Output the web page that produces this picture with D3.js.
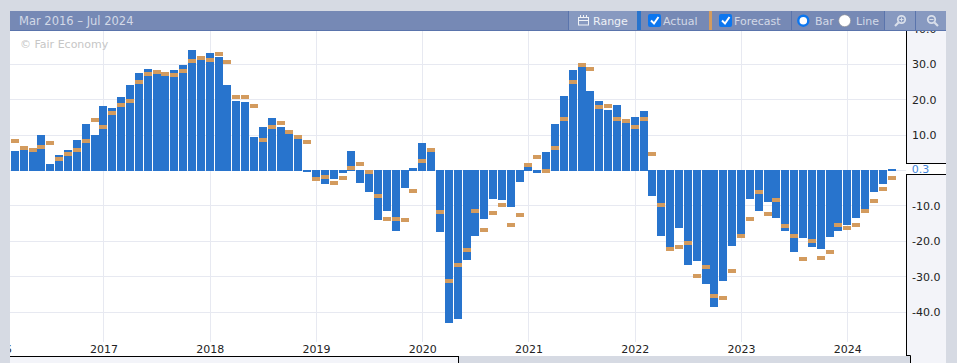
<!DOCTYPE html>
<html>
<head>
<meta charset="utf-8">
<script src="https://cdn.jsdelivr.net/npm/d3@7"></script>
<style>
  html, body { margin: 0; padding: 0; background: #d6dae3; overflow: hidden; }
  svg { display: block; font-family: "DejaVu Sans", sans-serif; font-size: 11px; }
  .head { fill: #d3d9e7; }
  .head.bright { fill: #eef1f6; }
</style>
</head>
<body>
<svg id="chart" width="957" height="363"></svg>
<script>
// one value per month, Mar 2016 to Jun 2024
var firstYear = 2016, firstMonth = 2;

var actual = [
  5.5, 5.8, 5.2, 10.1, 1.9, 4.4, 5.8, 8.6, 13.2, 10.1,
  18.3, 17.7, 20.8, 24.2, 27.6, 28.8, 27.4, 26.8, 28.5, 29.9, 34.1, 31.3,
  33.3, 32.1, 24.2, 19.7, 19.4, 9.5, 12.4, 14.9, 12.4, 10.4, 8.9, -0.4,
  -1.7, -3.9, -2.5, -0.6, 5.5, -3.6, -6.2, -14.1, -11.3, -17.0, -4.8, 0.7,
  7.8, 5.2, -17.5, -43.2, -42.1, -25.2, -18.4, -13.6, -8.1, -8.4, -10.2, -3.1,
  1.0, -0.6, 5.2, 13.2, 21.1, 28.5, 29.3, 22.5, 19.7, 17.1, 18.5, 13.5,
  15.2, 16.9, -7.3, -18.4, -21.7, -16.1, -26.6, -25.5, -32.2, -38.7, -31.1, -21.2,
  -17.8, -8.1, -11.3, -9.0, -13.3, -17.2, -22.9, -19.2, -21.7, -22.3, -18.9, -17.0,
  -15.5, -13.3, -10.8, -6.2, -3.9, 0.3
];

var forecast = [
  8.4, 6.4, 5.8, 6.6, 7.8, 3.3, 4.7, 5.8, 8.3, 14.3,
  12.4, 16.3, 18.5, 19.7, 25.1, 27.4, 27.9, 27.4, 27.1, 28.2, 31.0, 31.9,
  31.3, 33.0, 30.7, 20.8, 20.8, 18.3, 8.6, 12.4, 13.5, 11.0, 9.5, 8.1,
  -2.5, -1.7, -3.6, -2.2, 0.7, 1.8, -0.3, -7.3, -13.6, -13.6, -13.9, -5.9,
  2.8, 5.8, -11.6, -31.1, -26.6, -22.6, -11.3, -16.7, -11.9, -9.8, -15.5, -12.5,
  1.6, 3.8, -0.1, 6.4, 14.6, 25.1, 29.9, 28.8, 18.0, 18.3, 14.6, 14.1,
  12.4, 14.6, 4.7, -9.8, -22.3, -21.7, -20.6, -29.7, -27.4, -35.6, -35.9, -28.3,
  -18.6, -13.6, -6.2, -12.2, -8.4, -15.8, -18.6, -24.9, -20.0, -24.7, -22.9, -15.5,
  -16.1, -15.5, -11.3, -8.7, -5.3, -2.0
];

var yearTicks = [2016, 2017, 2018, 2019, 2020, 2021, 2022, 2023, 2024];
var valueTicks = [40, 30, 20, 10, -10, -20, -30, -40];
var gridValues = [30, 20, 10, 0, -10, -20, -30, -40];

var plot = { left: 10, right: 906, top: 31, bottom: 356 };

// months are evenly spaced on this chart, so x runs on a month count from Jan 2017
var monthIndex = (i) => (firstYear - 2017) * 12 + firstMonth + i;
var yearIndex = (yr) => (yr - 2017) * 12;

var x = d3.scaleLinear().domain([0, 84]).range([103.45, 847.27]);

var y = d3.scaleLinear().domain([-50, 40]).range([347.44, 29.02]);

var svg = d3.select("#chart");

// page + plot panels
svg.append("rect").attr("width", 957).attr("height", 363).attr("fill", "#d6dae3");
svg.append("rect")
  .attr("x", plot.left).attr("y", plot.top)
  .attr("width", plot.right - plot.left).attr("height", plot.bottom - plot.top)
  .attr("fill", "#ffffff");
svg.append("rect")
  .attr("x", plot.right).attr("y", plot.top)
  .attr("width", 40).attr("height", 363 - plot.top)
  .attr("fill", "#f3f4f9");
svg.append("rect")
  .attr("x", plot.left).attr("y", plot.bottom)
  .attr("width", 448).attr("height", 7)
  .attr("fill", "#f3f4f9");

svg.append("clipPath").attr("id", "plot-clip")
  .append("rect")
  .attr("x", plot.left).attr("y", plot.top)
  .attr("width", plot.right - plot.left).attr("height", plot.bottom - plot.top);

// grid
var grid = svg.append("g").attr("clip-path", "url(#plot-clip)");
grid.selectAll(".gx").data(yearTicks).enter().append("line")
  .attr("class", "gx")
  .attr("x1", (d) => Math.round(x(yearIndex(d))) + 0.5)
  .attr("x2", (d) => Math.round(x(yearIndex(d))) + 0.5)
  .attr("y1", plot.top).attr("y2", 342)
  .attr("stroke", "#e7e9f1");
grid.selectAll(".gy").data(gridValues).enter().append("line")
  .attr("class", "gy")
  .attr("x1", plot.left).attr("x2", plot.right)
  .attr("y1", (d) => Math.floor(y(d)) + 0.5)
  .attr("y2", (d) => Math.floor(y(d)) + 0.5)
  .attr("stroke", "#e7e9f1");

// bars, positive ones end one pixel below the negative ones' start
var zeroY = Math.ceil(y(0));
var marks = svg.append("g").attr("clip-path", "url(#plot-clip)");

marks.selectAll(".bar").data(actual).enter().append("rect")
  .attr("class", "bar")
  .attr("x", (d, i) => Math.round(x(monthIndex(i)) - 4))
  .attr("width", 8)
  .attr("y", (d) => (d >= 0 ? Math.round(y(d)) : zeroY - 1))
  .attr("height", (d) => (d >= 0 ? zeroY - Math.round(y(d)) : Math.round(y(d)) - zeroY + 1))
  .attr("fill", "#2874cd");

marks.selectAll(".fc").data(forecast).enter().append("rect")
  .attr("class", "fc")
  .attr("x", (d, i) => Math.round(x(monthIndex(i)) - 4))
  .attr("width", 8)
  .attr("y", (d) => Math.round(y(d)) - 2)
  .attr("height", 4)
  .attr("fill", "#d39b5e");

// x axis, 2016 label is cut by the panel edge
var xAxis = svg.append("g")
  .attr("clip-path", "url(#plot-clip)")
  .append("g")
  .attr("transform", "translate(0,342)")
  .call(
    d3.axisBottom(x)
      .tickValues(yearTicks.map(yearIndex))
      .tickFormat((d) => String(2017 + d / 12))
      .tickSize(0)
      .tickPadding(3)
  );
xAxis.select(".domain").remove();
xAxis.selectAll("text")
  .attr("fill", "#222")
  .style("font", "11px 'DejaVu Sans', sans-serif");

// y axis
var yAxis = svg.append("g")
  .attr("transform", "translate(" + plot.right + ",0)")
  .call(d3.axisRight(y).tickValues(valueTicks).tickFormat((d) => d.toFixed(1)).tickSize(0).tickPadding(6));
yAxis.select(".domain").remove();
yAxis.selectAll("text")
  .attr("fill", "#222")
  .style("font", "11px 'DejaVu Sans', sans-serif");

// black frame of the plot
var frame = svg.append("g").attr("stroke", "#000").attr("fill", "none");
frame.append("path").attr("d", "M10,356.5H906.5V31");
frame.append("path").attr("d", "M458.5,356.5V363");

// the part of the bottom strip right of the scrollbar
svg.append("rect").attr("x", 459).attr("y", 356).attr("width", 451).attr("height", 7).attr("fill", "#d6dae3");
svg.append("path").attr("d", "M906.5,355.5H910.5V363").attr("stroke", "#000").attr("fill", "none");

// label of the last value
var lastValue = actual[actual.length - 1];
svg.append("rect")
  .attr("x", plot.right).attr("y", 163.5)
  .attr("width", 40).attr("height", 11)
  .attr("fill", "#ffffff");
svg.append("path").attr("d", "M906,163.5H946M906,174.5H946").attr("stroke", "#000");
svg.append("text")
  .attr("x", 911.7).attr("y", y(lastValue) + 3.2)
  .attr("fill", "#3f85dc")
  .text(lastValue.toFixed(1));

svg.append("text")
  .attr("x", 20).attr("y", 48)
  .attr("fill", "#c6c6c6")
  .text("\u00a9 Fair Economy");

// header bar
var head = svg.append("g");
head.append("rect").attr("x", 10).attr("y", 11).attr("width", 936).attr("height", 20).attr("fill", "#7689b5");
head.append("rect").attr("x", 10).attr("y", 30).attr("width", 936).attr("height", 1).attr("fill", "#5a74ac");
head.append("rect").attr("x", 569).attr("y", 11).attr("width", 68).attr("height", 19).attr("fill", "#8799c0");
head.append("rect").attr("x", 885).attr("y", 11).attr("width", 30).attr("height", 19).attr("fill", "#8799c0");
head.append("rect").attr("x", 916).attr("y", 11).attr("width", 30).attr("height", 19).attr("fill", "#8799c0");
[568, 791, 884, 915].forEach((s) => {
  head.append("rect").attr("x", s).attr("y", 11).attr("width", 1).attr("height", 19).attr("fill", "#5a74ac");
});
head.append("rect").attr("x", 637).attr("y", 11).attr("width", 4).attr("height", 19).attr("fill", "#2874cd");
head.append("rect").attr("x", 709).attr("y", 11).attr("width", 3).attr("height", 19).attr("fill", "#d39b5e");

head.append("text").attr("class", "head").attr("x", 19).attr("y", 25).style("font-size", "11.5px").text("Mar 2016 \u2013 Jul 2024");
head.append("text").attr("class", "head bright").attr("x", 593).attr("y", 25).text("Range");
head.append("text").attr("class", "head").attr("x", 663).attr("y", 25).text("Actual");
head.append("text").attr("class", "head").attr("x", 734).attr("y", 25).text("Forecast");
head.append("text").attr("class", "head").attr("x", 815).attr("y", 25).text("Bar");
head.append("text").attr("class", "head").attr("x", 856).attr("y", 25).text("Line");

// calendar icon
var cal = head.append("g").attr("fill", "none").attr("stroke", "#eef1f6");
cal.append("rect").attr("x", 578.5).attr("y", 17.5).attr("width", 10).attr("height", 7.5);
cal.append("path").attr("d", "M578.5,20.5H588.5M580.5,15V17M583.5,15V17M586.5,15V17");

// checkboxes
[648, 719].forEach((cx) => {
  head.append("rect").attr("x", cx).attr("y", 14).attr("width", 13).attr("height", 13).attr("rx", 2).attr("fill", "#0b76ef");
  head.append("path")
    .attr("d", "M" + (cx + 3) + ",20.5l3,3l4.5,-6.5")
    .attr("fill", "none").attr("stroke", "#fff").attr("stroke-width", 2);
});

// radios
head.append("circle").attr("cx", 803.3).attr("cy", 20.7).attr("r", 5).attr("fill", "#fff").attr("stroke", "#0b76ef").attr("stroke-width", 2.4);
head.append("circle").attr("cx", 844.7).attr("cy", 20.7).attr("r", 6).attr("fill", "#fff").attr("stroke", "#8c8f98").attr("stroke-width", 0.7);

// zoom icons
var mags = [{ cx: 901.5, plus: true }, { cx: 931.5, plus: false }];
mags.forEach((m) => {
  var g = head.append("g").attr("fill", "none").attr("stroke", "#d9dfea");
  g.append("circle").attr("cx", m.cx).attr("cy", 19.5).attr("r", 3.7).attr("stroke-width", 1.8);
  var dir = m.plus ? -1 : 1;
  g.append("path")
    .attr("d", "M" + (m.cx + dir * 3) + ",22.5L" + (m.cx + dir * 6.5) + ",26")
    .attr("stroke-width", 2.2);
  g.append("path")
    .attr("d", m.plus ? "M" + (m.cx - 2) + ",19.5h4M" + m.cx + ",17.5v4" : "M" + (m.cx - 2) + ",19.5h4")
    .attr("stroke-width", 1);
});
</script>
</body>
</html>
